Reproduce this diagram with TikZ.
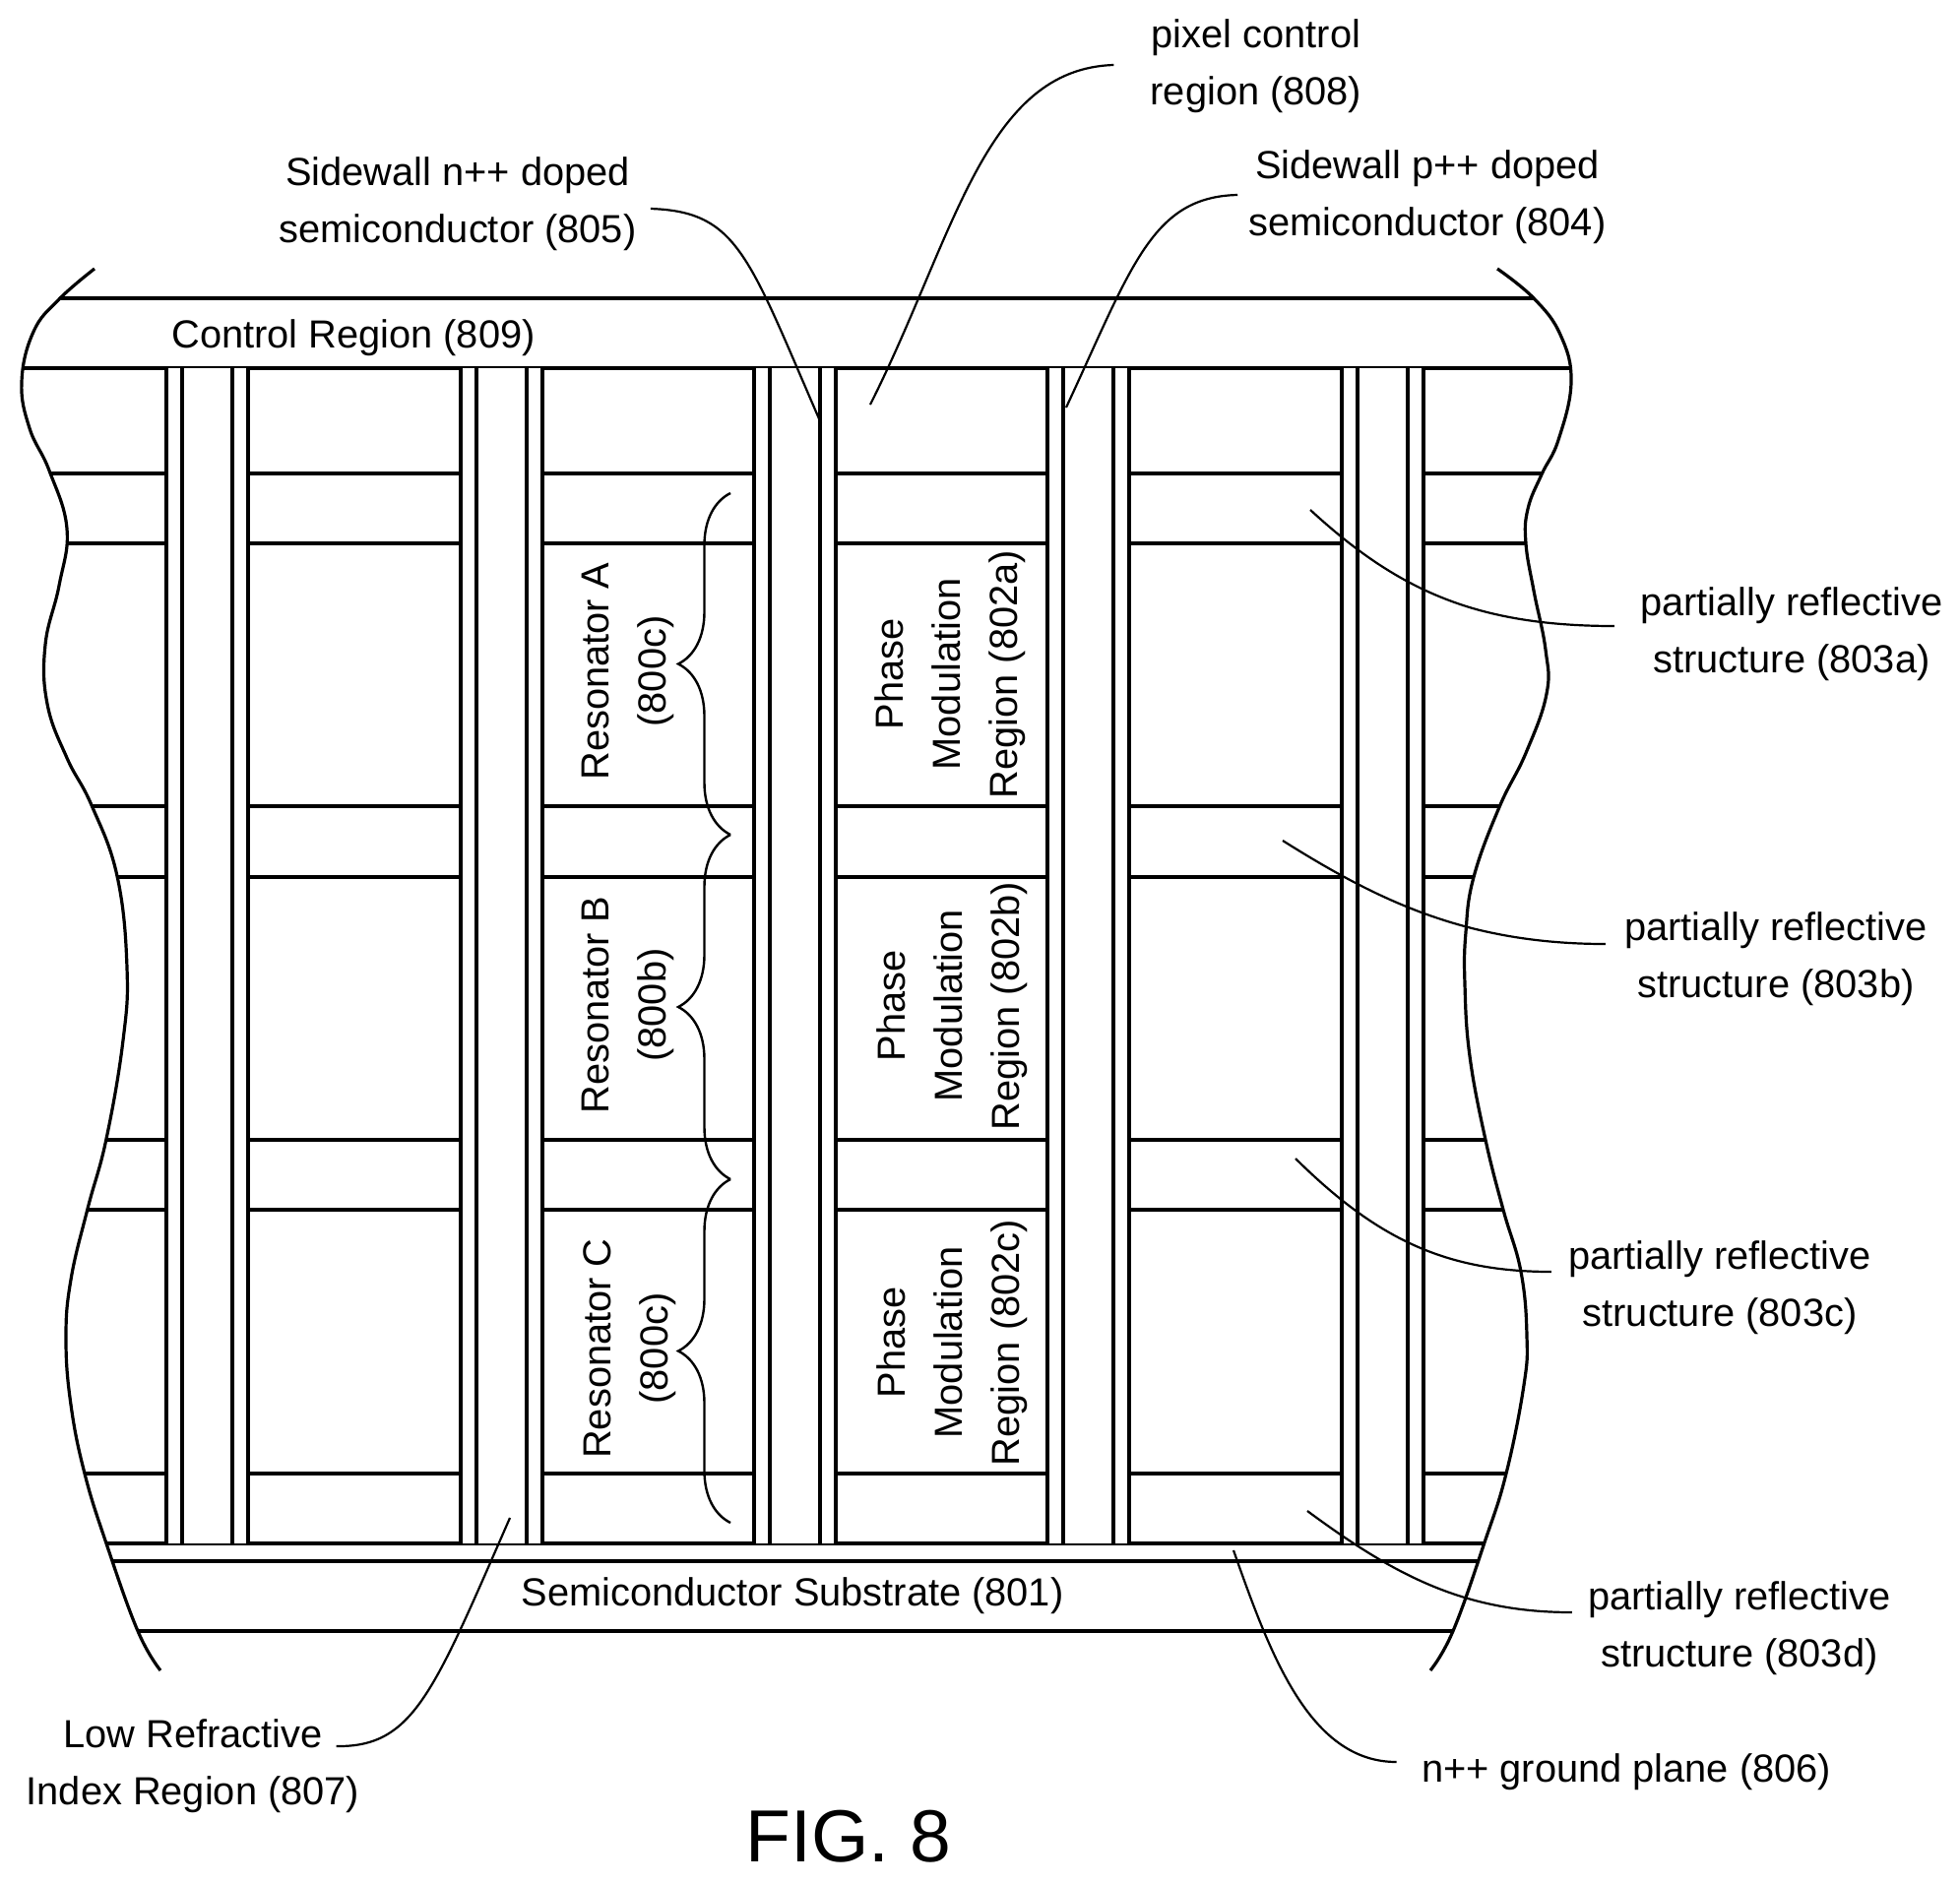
\documentclass[tikz,border=0pt]{standalone}
\usepackage{fontspec}
\setmainfont{Liberation Sans}
\usetikzlibrary{decorations.pathreplacing}

\begin{document}
\begin{tikzpicture}
        [
        x=0.5pt,y=-0.5pt,
        every node/.style={font=\fontsize{19.9}{29}\selectfont,align=center,inner sep=0pt},
        wall/.style={line width=1.7pt},
        rim/.style={line width=1.6pt},
        leader/.style={line width=1.1pt},
        resbrace/.style={line width=1.2pt,decorate,decoration={brace,amplitude=26.5pt,aspect=0.5}}
        ]
        \useasboundingbox (0,0) rectangle (1991,1913);

        % horizontal layers
        \draw[wall] (62,303) -- (1558,303);
        \draw[wall] (23,374) -- (1595,374);
        \draw[wall] (51,481) -- (1566,481);
        \draw[wall] (68,552) -- (1550,552);
        \draw[wall] (94,819) -- (1523,819);
        \draw[wall] (119,891) -- (1497,891);
        \draw[wall] (108,1158) -- (1509,1158);
        \draw[wall] (89,1229) -- (1527,1229);
        \draw[wall] (86,1497) -- (1530,1497);
        \draw[wall] (108,1568) -- (1508,1568);
        \draw[wall] (114,1586) -- (1501,1586);
        \draw[wall] (140,1657) -- (1476,1657);

        % pillars
        \foreach \x in {169,468,766,1064,1363} {
            \fill[white] (\x,374) rectangle ++(83,1194);
            \foreach \d in {0,16,67,83}
                \draw[wall] (\x+\d,374) -- (\x+\d,1568);
        }

        % broken edges
        \draw[rim] plot[smooth,tension=0.7] coordinates {(96,273) (60,304) (34,337) (22,388) (30,435) (50,478) (68,537) (60,595) (46,655) (48,715) (68,770)
            (93,818) (119,890) (129,983) (125,1057) (108,1157) (89,1228) (72,1300) (67,1360) (72,1427) (86,1497) (108,1568) (140,1657) (163,1697)};
        \draw[rim] plot[smooth,tension=0.7] coordinates {(1521,273) (1558,303) (1585,340) (1596,388) (1583,447) (1566,482) (1552,517) (1550,552) (1558,600) (1570,660)
            (1571,705) (1550,765) (1523,820) (1497,891) (1489,947) (1488,1000) (1493,1073) (1509,1158) (1527,1229) (1545,1292) (1551,1357) (1548,1407)
            (1530,1497) (1508,1567) (1476,1657) (1453,1697)};

        % labels
        \node (ctrl) at (359,343) {Control Region (809)};
        \node (subs) at (805,1621) {Semiconductor Substrate (801)};
        \node (pix) at (1276,67) {pixel control\\region (808)};
        \node (swn) at (465,207) {Sidewall n++ doped\\semiconductor (805)};
        \node (swp) at (1450,200) {Sidewall p++ doped\\semiconductor (804)};
        \node (refa) at (1820,644) {partially reflective\\structure (803a)};
        \node (refb) at (1804,974) {partially reflective\\structure (803b)};
        \node (refc) at (1747,1308) {partially reflective\\structure (803c)};
        \node (refd) at (1767,1654) {partially reflective\\structure (803d)};
        \node (low) at (196,1794) {Low Refractive\\Index Region (807)};
        \node (gnd) at (1652,1800) {n++ ground plane (806)};
        \node[font=\fontsize{37.5}{44}\selectfont] (fig) at (862,1866) {FIG. 8};

        \node[rotate=90] (resa) at (638,682) {Resonator A\\(800c)};
        \node[rotate=90] (resb) at (638,1021) {Resonator B\\(800b)};
        \node[rotate=90] (resc) at (640,1370) {Resonator C\\(800c)};
        \node[rotate=90] (moda) at (965,685) {Phase\\Modulation\\Region (802a)};
        \node[rotate=90] (modb) at (967,1022) {Phase\\Modulation\\Region (802b)};
        \node[rotate=90] (modc) at (967,1364) {Phase\\Modulation\\Region (802c)};

        % resonator braces
        \coordinate (bra) at (742,501);
        \coordinate (brb) at (742,848);
        \coordinate (brc) at (742,1198);
        \coordinate (brd) at (742,1547);
        \draw[resbrace] (brb) -- (bra);
        \draw[resbrace] (brc) -- (brb);
        \draw[resbrace] (brd) -- (brc);

        % leaders
        \coordinate (pixend) at (884,411);
        \coordinate (swnend) at (834,430);
        \coordinate (swpend) at (1083,414);
        \coordinate (lowend) at (518,1542);
        \coordinate (gndend) at (1253,1575);
        \coordinate (refaend) at (1331,518);
        \coordinate (refbend) at (1303,854);
        \coordinate (refcend) at (1316,1177);
        \coordinate (refdend) at (1328,1535);

        \draw[leader] (pix.west) ++(-37,-1) .. controls (1000,70) and (970,240) .. (pixend);
        \draw[leader] (swn.east) ++(14,5) .. controls (750,215) and (760,260) .. (swnend);
        \draw[leader] (swp.west) ++(-11,-2) .. controls (1170,200) and (1150,270) .. (swpend);
        \draw[leader] (low.east) ++(-24,-20) .. controls (420,1775) and (440,1720) .. (lowend);
        \draw[leader] (gnd.west) ++(-25,-10) .. controls (1330,1790) and (1290,1680) .. (gndend);
        \draw[leader] (refa.west) ++(-26,-8) .. controls (1500,636) and (1420,600) .. (refaend);
        \draw[leader] (refb.west) ++(-19,-15) .. controls (1490,959) and (1400,915) .. (refbend);
        \draw[leader] (refc.west) ++(-17,-16) .. controls (1470,1292) and (1400,1260) .. (refcend);
        \draw[leader] (refd.west) ++(-16,-16) .. controls (1490,1638) and (1420,1603) .. (refdend);
    \end{tikzpicture}
\end{document}
